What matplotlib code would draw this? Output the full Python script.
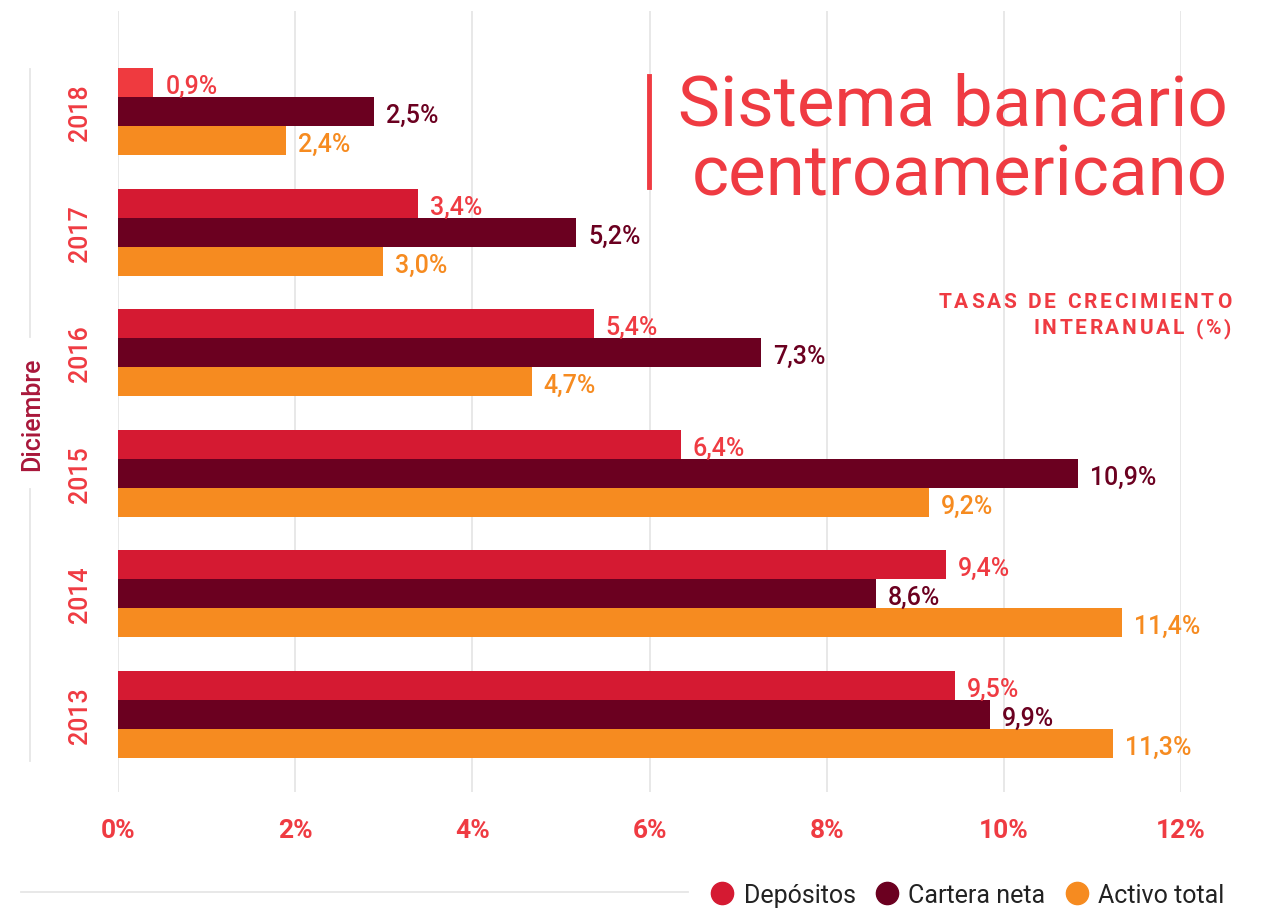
import matplotlib
matplotlib.use('Agg')
import matplotlib.pyplot as plt
from matplotlib.lines import Line2D

plt.rcParams['font.family'] = ['Roboto', 'DejaVu Sans']

years = ['2013', '2014', '2015', '2016', '2017', '2018']
# bar lengths as drawn in the picture (%)
depositos = [9.45, 9.35, 6.35, 5.37, 3.39, 0.4]
cartera = [9.84, 8.56, 10.84, 7.26, 5.17, 2.89]
activo = [11.23, 11.33, 9.15, 4.67, 2.99, 1.9]
# printed labels
depositos_lbl = ['9,5%', '9,4%', '6,4%', '5,4%', '3,4%', '0,9%']
cartera_lbl = ['9,9%', '8,6%', '10,9%', '7,3%', '5,2%', '2,5%']
activo_lbl = ['11,3%', '11,4%', '9,2%', '4,7%', '3,0%', '2,4%']
xticks = [0, 2, 4, 6, 8, 10, 12]
xtick_labels = ['0%', '2%', '4%', '6%', '8%', '10%', '12%']
series_names = ['Depósitos', 'Cartera neta', 'Activo total']

RED = '#d51a32'
RED_LIGHT = '#ef3a3f'
WINE = '#6b0020'
ORANGE = '#f68b20'
TXT_RED = '#ef3b42'
GRID = '#e6e6e6'

W, H = 1267, 912
fig = plt.figure(figsize=(W / 100, H / 100), dpi=100)
ax = fig.add_axes([118 / W, (H - 793) / H, (1181 - 118) / W, 781 / H])

bh = 29 / 120.5
ypos = [5 - i for i in range(len(years))]  # 2013 at bottom
dep_colors = [RED] * 5 + [RED_LIGHT]
lab_kw = dict(fontsize=18, fontweight='medium', va='baseline', ha='left')
dy = 10 / 120.5  # baseline below bar centre
off = 0.135
for i in range(len(years)):
    y = ypos[i]
    ax.barh(y - bh, depositos[i], height=bh, color=dep_colors[i], zorder=2)
    ax.barh(y, cartera[i], height=bh, color=WINE, zorder=2)
    ax.barh(y + bh, activo[i], height=bh, color=ORANGE, zorder=2)
    ax.text(depositos[i] + off, y - bh + dy, depositos_lbl[i], color=TXT_RED, **lab_kw)
    ax.text(cartera[i] + off, y + dy, cartera_lbl[i], color=WINE, **lab_kw)
    ax.text(activo[i] + off, y + bh + dy, activo_lbl[i], color=ORANGE, **lab_kw)

ax.set_xlim(0, 12)
ax.set_ylim(5 + (793 - 715.5) / 120.5, -(113 - 12) / 120.5)
ax.set_xticks(xticks)
ax.set_xticklabels(xtick_labels, color=TXT_RED, fontsize=19, fontweight='semibold')
ax.set_yticks(ypos)
ax.set_yticklabels(years, rotation=90, color=TXT_RED, fontsize=18,
                   fontweight='medium', va='center')
ax.tick_params(axis='x', length=0, pad=19)
ax.tick_params(axis='y', length=0, pad=19)
ax.grid(axis='x', color=GRID, lw=1.3, zorder=0)
ax.set_axisbelow(True)
for s in ax.spines.values():
    s.set_visible(False)

# left guide line with "Diciembre"
fig.add_artist(Line2D([30 / W, 30 / W], [1 - 70 / H, 1 - 338 / H], color=GRID, lw=1.3))
fig.add_artist(Line2D([30 / W, 30 / W], [1 - 490 / H, 1 - 762 / H], color=GRID, lw=1.3))
fig.text(32 / W, 1 - 414 / H, 'Diciembre', rotation=90, color='#a8173a',
         fontsize=18, fontweight='medium', ha='center', va='center')

# title block
fig.add_artist(Line2D([649 / W, 649 / W], [1 - 77 / H, 1 - 188 / H], color=TXT_RED, lw=3.5))
fig.text(1228 / W, 1 - 125 / H, 'Sistema bancario', color=TXT_RED, fontsize=51,
         ha='right', va='baseline')
fig.text(1228 / W, 1 - 196 / H, 'centroamericano', color=TXT_RED, fontsize=51,
         ha='right', va='baseline')


def spaced_text(x_right, y_base, s, spacing, **kw):
    # right-aligned text with extra letter spacing, pixel coordinates
    r = fig.canvas.get_renderer()
    widths = []
    for ch in s:
        if ch == ' ':
            widths.append(None)
            continue
        t = fig.text(0, 0, ch, **kw)
        widths.append(t.get_window_extent(r).width)
        t.remove()
    sp_w = 0.3 * kw['fontsize'] * 100 / 72
    widths = [sp_w if w is None else w for w in widths]
    total = sum(widths) + spacing * (len(s) - 1)
    x = x_right - total
    for ch, w in zip(s, widths):
        if ch != ' ':
            fig.text(x / W, 1 - y_base / H, ch, ha='left', va='baseline', **kw)
        x += w + spacing


sub_kw = dict(color=TXT_RED, fontsize=15, fontweight='bold')
spaced_text(1231, 308, 'TASAS DE CRECIMIENTO', 2.7, **sub_kw)
spaced_text(1231, 334, 'INTERANUAL (%)', 2.7, **sub_kw)

# bottom rule and legend
fig.add_artist(Line2D([21 / W, 688 / W], [1 - 893 / H, 1 - 893 / H], color=GRID, lw=1.3))
handles = [Line2D([], [], marker='o', ls='none', markersize=16, color=c)
           for c in [RED, WINE, ORANGE]]
fig.legend(handles, series_names, loc='center right', ncol=3,
           bbox_to_anchor=(1234 / W, 1 - 896 / H), frameon=False,
           fontsize=18, handletextpad=0.35, columnspacing=0.75,
           labelcolor='#222222', borderaxespad=0, handlelength=1.0)

fig.savefig('out.png', dpi=100, facecolor='white')
